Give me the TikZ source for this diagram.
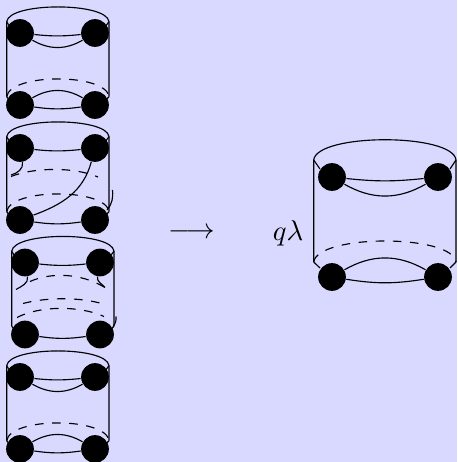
\documentclass[tikz,border=0pt]{standalone}
\usepackage{amsmath}

\begin{document}
\begin{tikzpicture}[
    x=0.35pt, y=0.35pt,
    strand/.style={draw=black, line width=0.4pt},
    hidden/.style={draw=black, dashed, line width=0.4pt},
    puncture/.style={circle, fill=black, minimum size=9.7pt, inner sep=0pt}
]

\fill[blue!15] (0,0) rectangle (457,462);
\useasboundingbox (0,0) rectangle (457,462);

% First cylinder
\begin{scope}[shift={(0,357)}]
    \draw[strand] (6.7,8.3) -- (6.7,83.3) .. controls (9,103) and (107,103) .. (109,83.3) -- (109,8.3);
    \draw[strand] (6.7,83.3) -- (10,78);
    \draw[strand] (109,83.3) -- (105,78);
    \draw[strand] (6.7,8.3) -- (10,4);
    \draw[strand] (109,8.3) -- (105,4);
    \draw[hidden] (6.7,8.3) .. controls (10,32) and (106,32) .. (109,8.3);

    \node[puncture] (one-tl) at (20,72) {};
    \node[puncture] (one-tr) at (95,72) {};
    \node[puncture] (one-bl) at (20,0) {};
    \node[puncture] (one-br) at (95,0) {};

    \draw[strand] (one-tl) to[bend right=6] (one-tr);
    \draw[strand] (one-tl) to[bend right=30] (one-tr);
    \draw[strand] (one-bl) to[bend left=30] (one-br);
    \draw[strand] (one-bl) to[bend right=8] (one-br);
\end{scope}

% Second cylinder
\begin{scope}[shift={(0,242)}]
    \draw[strand] (6.7,8.3) -- (6.7,83.3) .. controls (9,103) and (107,103) .. (109,83.3) -- (109,8.3);
    \draw[strand] (6.7,83.3) -- (10,78);
    \draw[strand] (109,83.3) -- (105,78);
    \draw[strand] (6.7,8.3) -- (10,4);
    \draw[strand] (109,8.3) -- (105,4);
    \draw[hidden] (11,43.5) .. controls (35,53) and (75,53) .. (98,43);
    \draw[hidden] (6.7,8.3) .. controls (10,32) and (106,32) .. (109,8.3);

    \node[puncture] (two-tl) at (20,72) {};
    \node[puncture] (two-tr) at (95,72) {};
    \node[puncture] (two-bl) at (20,0) {};
    \node[puncture] (two-br) at (95,0) {};
    \coordinate (two-hook) at (11,45);
    \coordinate (two-top) at (112.5,30);
    \coordinate (two-end) at (107,10);

    \draw[strand] (two-tl) to[bend right=6] (two-tr);
    \draw[strand] (two-bl) to[bend right=8] (two-br);
    \draw[strand] (two-tl) to[out=-80,in=15] (two-hook);
    \draw[strand] (two-tr) to[out=-105,in=20] (two-bl);
    \draw[strand] (two-top) to[out=-85,in=50] (two-end);
\end{scope}

% Third cylinder
\begin{scope}[shift={(5,127.5)}]
    \draw[strand] (6.7,8.3) -- (6.7,83.3) .. controls (9,103) and (107,103) .. (109,83.3) -- (109,8.3);
    \draw[strand] (6.7,83.3) -- (10,78);
    \draw[strand] (109,83.3) -- (105,78);
    \draw[strand] (6.7,8.3) -- (10,4);
    \draw[strand] (109,8.3) -- (105,4);
    \draw[hidden] (25,53) .. controls (45,62) and (75,62) .. (100,47);
    \draw[hidden] (18,31) .. controls (40,37) and (75,38) .. (100,30);
    \draw[hidden] (12,17) .. controls (35,29) and (75,29) .. (99,18);

    \node[puncture] (three-tl) at (20,72) {};
    \node[puncture] (three-tr) at (95,72) {};
    \node[puncture] (three-bl) at (20,0) {};
    \node[puncture] (three-br) at (95,0) {};
    \coordinate (three-hook) at (11,45);
    \coordinate (three-back) at (100,47);
    \coordinate (three-top) at (111,18);
    \coordinate (three-end) at (108,8);

    \draw[strand] (three-tl) to[bend right=6] (three-tr);
    \draw[strand] (three-bl) to[bend right=8] (three-br);
    \draw[strand] (three-tl) to[out=-80,in=30] (three-hook);
    \draw[strand] (three-tr) to[out=-100,in=130] (three-back);
    \draw[strand] (three-top) to[out=-85,in=50] (three-end);
\end{scope}

% Fourth cylinder
\begin{scope}[shift={(0,13)}]
    \draw[strand] (6.7,8.3) -- (6.7,83.3) .. controls (9,103) and (107,103) .. (109,83.3) -- (109,8.3);
    \draw[strand] (6.7,83.3) -- (10,78);
    \draw[strand] (109,83.3) -- (105,78);
    \draw[strand] (6.7,8.3) -- (10,4);
    \draw[strand] (109,8.3) -- (105,4);
    \draw[hidden] (6.7,8.3) .. controls (10,32) and (106,32) .. (109,8.3);

    \node[puncture] (four-tl) at (20,72) {};
    \node[puncture] (four-tr) at (95,72) {};
    \node[puncture] (four-bl) at (20,0) {};
    \node[puncture] (four-br) at (95,0) {};

    \draw[strand] (four-tl) to[bend right=6] (four-tr);
    \draw[strand] (four-tl) to[bend right=30] (four-tr);
    \draw[strand] (four-bl) to[bend left=30] (four-br);
    \draw[strand] (four-bl) to[bend right=8] (four-br);
\end{scope}

% Result
\begin{scope}[shift={(0,185)}]
    \draw[strand] (313.7,15) -- (313.7,117) .. controls (317,144) and (453,144) .. (456,117) -- (456,15);
    \draw[strand] (313.7,117) -- (320,108);
    \draw[strand] (456,117) -- (450,108);
    \draw[strand] (313.7,15) -- (320,9);
    \draw[strand] (456,15) -- (450,9);
    \draw[hidden] (313.7,15) .. controls (318,43) and (452,43) .. (456,15);

    \node[puncture] (res-tl) at (332,100) {};
    \node[puncture] (res-tr) at (438,100) {};
    \node[puncture] (res-bl) at (332,0) {};
    \node[puncture] (res-br) at (438,0) {};

    \draw[strand] (res-tl) to[bend right=6] (res-tr);
    \draw[strand] (res-tl) to[bend right=30] (res-tr);
    \draw[strand] (res-bl) to[bend left=30] (res-br);
    \draw[strand] (res-bl) to[bend right=9] (res-br);
\end{scope}

\node (arrow) at (192,229) {$\longrightarrow$};
\node (factor) at (288,229) {$q\lambda$};

\end{tikzpicture}
\end{document}
